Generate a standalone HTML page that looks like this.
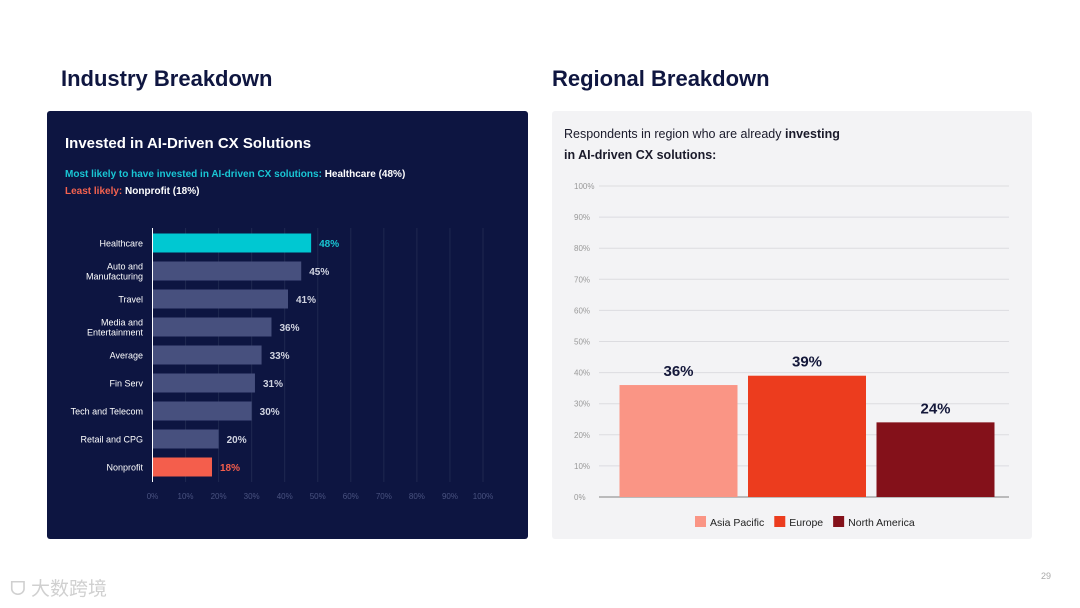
<!DOCTYPE html>
<html><head><meta charset="utf-8"><style>
body{margin:0;width:1080px;height:608px;background:#fff;font-family:"Liberation Sans","Noto Sans CJK SC",sans-serif;position:relative;overflow:hidden}
.t{position:absolute;white-space:nowrap}
</style></head><body>
<div class="t" style="left:61px;top:66px;font-size:22px;font-weight:bold;color:#0f1640">Industry Breakdown</div>
<div class="t" style="left:552px;top:66px;font-size:22px;font-weight:bold;color:#0f1640">Regional Breakdown</div>
<div style="position:absolute;left:47px;top:111px;width:481px;height:428px;background:#0d1541;border-radius:3px"></div>
<div style="position:absolute;left:552px;top:111px;width:480px;height:428px;background:#f3f3f5;border-radius:3px"></div>
<div class="t" style="left:65px;top:135px;font-size:15px;font-weight:bold;color:#fff">Invested in AI-Driven CX Solutions</div>
<div class="t" style="left:65px;top:169px;font-size:10px;font-weight:bold;color:#19c6d4">Most likely to have invested in AI-driven CX solutions: <span style="color:#fff">Healthcare (48%)</span></div>
<div class="t" style="left:65px;top:186px;font-size:10px;font-weight:bold;color:#f4624f">Least likely: <span style="color:#fff">Nonprofit (18%)</span></div>
<div class="t" style="left:564px;top:124px;font-size:12.5px;line-height:21px;color:#1a1a2a">Respondents in region who are already <b>investing</b><br><b>in AI-driven CX solutions:</b></div>
<div class="t" style="left:1041px;top:571px;font-size:9px;color:#aaa">29</div>
<div class="t" style="left:10px;top:574px;font-size:19px;color:#d0d0d0">ᗜ 大数跨境</div>
<svg id="c" width="1080" height="608" style="position:absolute;left:0;top:0"></svg>
<script>
const indCats=["Healthcare","Auto and|Manufacturing","Travel","Media and|Entertainment","Average","Fin Serv","Tech and Telecom","Retail and CPG","Nonprofit"];
const indVals=[48,45,41,36,33,31,30,20,18];
const indTicks=[0,10,20,30,40,50,60,70,80,90,100];
const regCats=["Asia Pacific","Europe","North America"];
const regVals=[36,39,24];
const regTicks=[0,10,20,30,40,50,60,70,80,90,100];
const regColors=["#fa9585","#ec3c1e","#84111a"];
const svg=document.getElementById('c');const NS='http://www.w3.org/2000/svg';
function mk(t,a,p){const e=document.createElementNS(NS,t);for(const k in a)e.setAttribute(k,a[k]);(p||svg).appendChild(e);return e;}
const lx=v=>152.5+v*3.305, ly=i=>243+i*28;
indTicks.forEach(t=>{
 if(t>0){const g=mk('line',{x1:lx(t),x2:lx(t),y1:228,y2:482,stroke:'#1f2850','stroke-width':1});}
 const tx=mk('text',{x:lx(t),y:499,'text-anchor':'middle','font-size':8,fill:'#4a5380'});tx.textContent=t+'%';
 
});
indCats.forEach((c,i)=>{
 const v=indVals[i];const col=i==0?'#00c8d2':(i==indCats.length-1?'#f45e4c':'#47507e');
 const r=mk('rect',{x:lx(0),y:ly(i)-9.5,width:lx(v)-lx(0),height:19,fill:col});
 
 const parts=c.split('|');
 parts.forEach((p,j)=>{const t=mk('text',{x:143,y:ly(i)+3.5+(parts.length>1?(j-0.5)*10:0),'text-anchor':'end','font-size':9,fill:'#fff'});t.textContent=p;
  });
 const vl=mk('text',{x:lx(v)+8,y:ly(i)+4,'font-size':10,'font-weight':'bold',fill:i==0?'#19c6d4':(i==indCats.length-1?'#f45e4c':'#d0d3e0')});vl.textContent=v+'%';
 
});
const ax=mk('line',{x1:lx(0),x2:lx(0),y1:228,y2:482,stroke:'#fff','stroke-width':1});
const ry=v=>497-v*3.11;
regTicks.forEach(t=>{
 const g=mk('line',{x1:599,x2:1009,y1:ry(t),y2:ry(t),stroke:t==0?'#999':'#dcdce0','stroke-width':t==0?1.2:1});
 
 const tx=mk('text',{x:574,y:ry(t)+3,'font-size':8,fill:'#999'});tx.textContent=t+'%';
 
});
regCats.forEach((c,i)=>{
 const x=619.5+i*128.5,v=regVals[i];
 const r=mk('rect',{x:x,y:ry(v),width:118,height:ry(0)-ry(v),fill:regColors[i]});
 
 const t=mk('text',{x:x+59,y:ry(v)-9,'text-anchor':'middle','font-size':15,'font-weight':'bold',fill:'#14183a'});t.textContent=v+'%';
 
});
let lxp=695;[0,1,2].forEach(i=>{
 const s=mk('rect',{x:lxp,y:516,width:11,height:11,fill:regColors[i]});
 const t=mk('text',{x:lxp+15,y:526,'font-size':10.5,fill:'#222'});t.textContent=regCats[i];
 
 lxp+=15+t.getComputedTextLength()+10;
});
</script>
</body></html>
